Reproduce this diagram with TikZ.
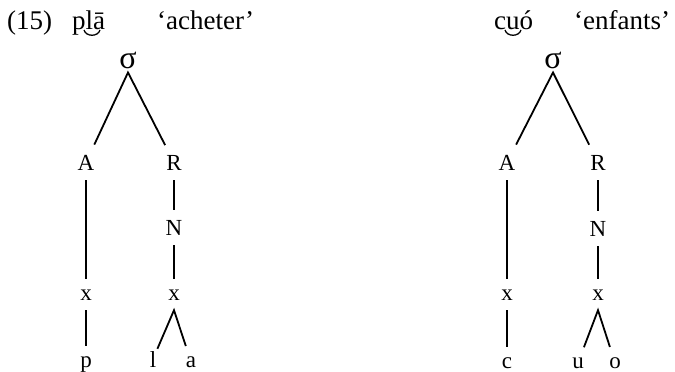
\documentclass[tikz,border=0pt]{standalone}
\usepackage{fontspec}
\setmainfont{Liberation Serif}
\begin{document}
\begin{tikzpicture}[x=1pt,y=-1pt,
  head/.style={font=\fontsize{27}{31}\selectfont, inner sep=0pt, anchor=base west},
  lab/.style={font=\fontsize{23}{27}\selectfont, inner xsep=1pt, inner ysep=10pt, anchor=base},
  sig/.style={font=\fontsize{32}{36}\selectfont, inner xsep=0pt, inner ysep=4pt, anchor=base},
  br/.style={line width=1.8pt},
  tie/.style={line width=1.3pt}]
\useasboundingbox (0,0) rectangle (675,372);
% headings
\node[head] (ex) at (7,29) {(15)};
\node[head] (w1) at (72,29) {pl\=a};
\node[head] (g1) at (157,29) {`acheter'};
\node[head] (w2) at (494,29) {cu\'o};
\node[head] (g2) at (574,29) {`enfants'};
\draw[tie] (84,30) .. controls (86,37) and (98,37) .. (100,30);
\draw[tie] (505,30) .. controls (507,37) and (519,37) .. (521,30);
% left tree
\node[sig] (s1) at (128,68) {σ};
\node[lab] (A1) at (86,170) {A};
\node[lab] (R1) at (174,170) {R};
\node[lab] (N1) at (174,235) {N};
\node[lab] (xa1) at (86,300) {x};
\node[lab] (xr1) at (174,300) {x};
\node[lab] (p1) at (86,367) {p};
\node[lab] (l1) at (153,367) {l};
\node[lab] (a1) at (191,367) {a};
\draw[br] (A1) -- (s1.south) -- (R1);
\draw[br] (A1) -- (xa1) -- (p1);
\draw[br] (R1) -- (N1) -- (xr1);
\draw[br] (l1) -- (xr1.south) -- (a1);
% right tree
\node[sig] (s2) at (553,68) {σ};
\node[lab] (A2) at (507,170) {A};
\node[lab] (R2) at (598,170) {R};
\node[lab] (N2) at (598,236) {N};
\node[lab] (xa2) at (507,300) {x};
\node[lab] (xr2) at (598,300) {x};
\node[lab] (c2) at (507,368) {c};
\node[lab] (u2) at (578,368) {u};
\node[lab] (o2) at (615,368) {o};
\draw[br] (A2) -- (s2.south) -- (R2);
\draw[br] (A2) -- (xa2) -- (c2);
\draw[br] (R2) -- (N2) -- (xr2);
\draw[br] (u2) -- (xr2.south) -- (o2);
\end{tikzpicture}
\end{document}
